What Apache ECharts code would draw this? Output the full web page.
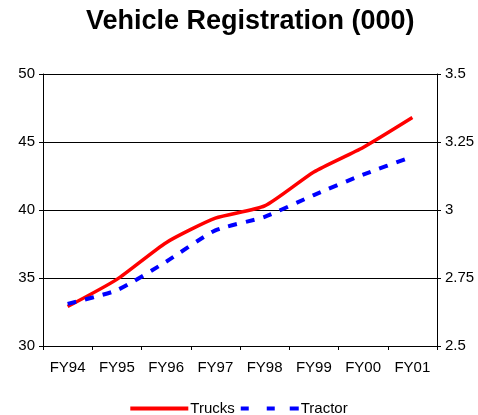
<!DOCTYPE html>
<html><head><meta charset="utf-8">
<script src="https://cdn.jsdelivr.net/npm/echarts@6/dist/echarts.min.js"></script>
<style>html,body{margin:0;padding:0;background:#fff}#c{width:478px;height:415px}</style>
</head><body><div id="c"></div>
<script>
const categories = ['FY94','FY95','FY96','FY97','FY98','FY99','FY00','FY01'];
const trucks = [32.9, 34.9, 37.6, 39.4, 40.3, 42.8, 44.6, 46.8];
const tractor = [2.655, 2.705, 2.81, 2.925, 2.975, 3.055, 3.13, 3.196];
const leftTicks = [30, 35, 40, 45, 50];
const rightTicks = [2.5, 2.75, 3, 3.25, 3.5];

const chart = echarts.init(document.getElementById('c'));
const font = 'Liberation Sans, Arial, sans-serif';
chart.setOption({
  animation: false,
  title: {text: 'Vehicle Registration (000)', left: 81, top: 3,
    textStyle: {fontFamily: font, fontSize: 27, fontWeight: 'bold', color: '#000'}},
  grid: {left: 43, right: 41, top: 74, bottom: 69},
  legend: {top: 396, left: 'center', itemWidth: 58, itemHeight: 4, itemGap: 6,
    textStyle: {fontFamily: font, fontSize: 15, color: '#000', padding: [0, 0, 0, -3]},
    data: [
      {name: 'Trucks', icon: 'path://M0,0h58v4h-58z', itemStyle: {color: '#ff0000'}},
      {name: 'Tractor', icon: 'path://M0,0h8v4h-8z M26,0h8v4h-8z M49,0h9v4h-9z', itemStyle: {color: '#0000ff'}}
    ]},
  xAxis: {type: 'category', data: categories, boundaryGap: true,
    axisLine: {lineStyle: {color: '#000', width: 1}},
    axisTick: {show: true, length: 4, lineStyle: {color: '#000'}},
    axisLabel: {fontFamily: font, fontSize: 15, color: '#000', margin: 14}},
  yAxis: [
    {type: 'value', min: leftTicks[0], max: leftTicks[leftTicks.length-1], interval: 5,
      axisLine: {show: true, lineStyle: {color: '#000'}},
      axisTick: {show: true, length: 4, lineStyle: {color: '#000'}},
      splitLine: {show: true, lineStyle: {color: '#000', width: 1}},
      axisLabel: {fontFamily: font, fontSize: 15, color: '#000', margin: 8}},
    {type: 'value', min: rightTicks[0], max: rightTicks[rightTicks.length-1], interval: 0.25,
      axisLine: {show: true, lineStyle: {color: '#000'}},
      axisTick: {show: true, length: 4, lineStyle: {color: '#000'}},
      splitLine: {show: false},
      axisLabel: {fontFamily: font, fontSize: 15, color: '#000', margin: 8,
        formatter: v => String(v)}}
  ],
  series: [
    {name: 'Trucks', type: 'line', data: trucks, yAxisIndex: 0, symbol: 'none', smooth: 0.2,
      lineStyle: {color: '#ff0000', width: 3.5}, itemStyle: {color: '#ff0000'}},
    {name: 'Tractor', type: 'line', data: tractor, yAxisIndex: 1, symbol: 'none', smooth: 0.2,
      lineStyle: {color: '#0000ff', width: 4, type: [9, 9]}, itemStyle: {color: '#0000ff'}}
  ]
});
</script></body></html>
